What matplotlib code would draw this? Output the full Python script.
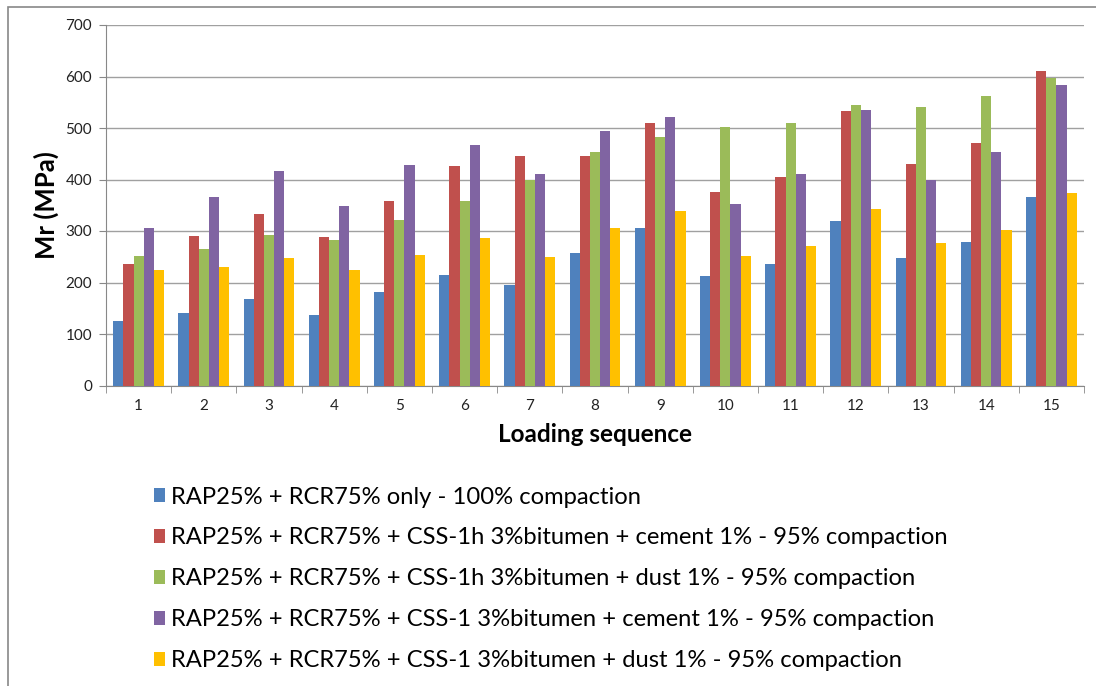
import matplotlib
matplotlib.use("Agg")
import matplotlib.pyplot as plt
import numpy as np
from matplotlib.patches import Rectangle

plt.rcParams['font.family'] = ['Lato', 'DejaVu Sans']

categories = [str(i) for i in range(1, 16)]
s1 = [125, 140, 168, 136, 182, 214, 195, 257, 305, 213, 236, 320, 248, 279, 366]
s2 = [236, 290, 333, 289, 358, 427, 446, 446, 510, 375, 405, 533, 430, 470, 611]
s3 = [252, 265, 292, 283, 322, 358, 400, 454, 483, 502, 510, 544, 541, 562, 598]
s4 = [305, 366, 416, 348, 428, 467, 410, 495, 521, 353, 410, 535, 400, 453, 583]
s5 = [224, 230, 248, 225, 253, 287, 250, 305, 339, 252, 271, 342, 277, 302, 373]
labels = [
    "RAP25% + RCR75% only - 100% compaction",
    "RAP25% + RCR75% + CSS-1h 3%bitumen + cement 1% - 95% compaction",
    "RAP25% + RCR75% + CSS-1h 3%bitumen + dust 1% - 95% compaction",
    "RAP25% + RCR75% + CSS-1 3%bitumen + cement 1% - 95% compaction",
    "RAP25% + RCR75% + CSS-1 3%bitumen + dust 1% - 95% compaction",
]
colors = ["#4F81BD", "#C0504D", "#9BBB59", "#8064A2", "#FFC000"]
series = [s1, s2, s3, s4, s5]

fig = plt.figure(figsize=(10.96, 6.86), dpi=100)
W, H = 1096, 686
ax = fig.add_axes([106 / W, 1 - 385.5 / H, (1084 - 106) / W, (385.5 - 25) / H])

x = np.arange(len(categories))
bw = 0.156
for i, (s, c, lab) in enumerate(zip(series, colors, labels)):
    ax.bar(x + (i - 2) * bw, s, width=bw, color=c, label=lab, zorder=3)

ax.set_xlim(-0.5, len(categories) - 0.5)
ax.set_ylim(0, 700)
ax.set_yticks(range(0, 701, 100))
ax.set_xticks(x)
ax.set_xticklabels(categories)
ax.set_xticks(np.arange(-0.5, len(categories), 1), minor=True)
ax.tick_params(axis='x', which='major', length=0, labelsize=11, pad=10, labelcolor='#222222')
ax.tick_params(axis='x', which='minor', length=5, color='#888888')
ax.tick_params(axis='y', length=5, color='#888888', labelsize=11, pad=5, labelcolor='#222222')
ax.grid(axis='y', color='#a0a0a0', linewidth=1, zorder=0)
for sp in ['top', 'right']:
    ax.spines[sp].set_visible(False)
for sp in ['left', 'bottom']:
    ax.spines[sp].set_color('#888888')
ax.set_ylabel("Mr (MPa)", fontsize=18.5, fontweight='bold', labelpad=5)
ax.set_xlabel("Loading sequence", fontsize=17.5, fontweight='bold', labelpad=7)

fig.legend(loc='upper left', bbox_to_anchor=(144 / W, 1 - 477 / H), frameon=False,
           fontsize=17.1, handlelength=0.5, handleheight=0.5, handletextpad=0.25,
           labelspacing=0.84, borderaxespad=0)

fig.patches.append(Rectangle((8 / W, -0.1), 1.2, 1 - 7 / H + 0.1, transform=fig.transFigure,
                             fill=False, edgecolor='#888888', linewidth=1.2))

fig.savefig("out.png", dpi=100)
